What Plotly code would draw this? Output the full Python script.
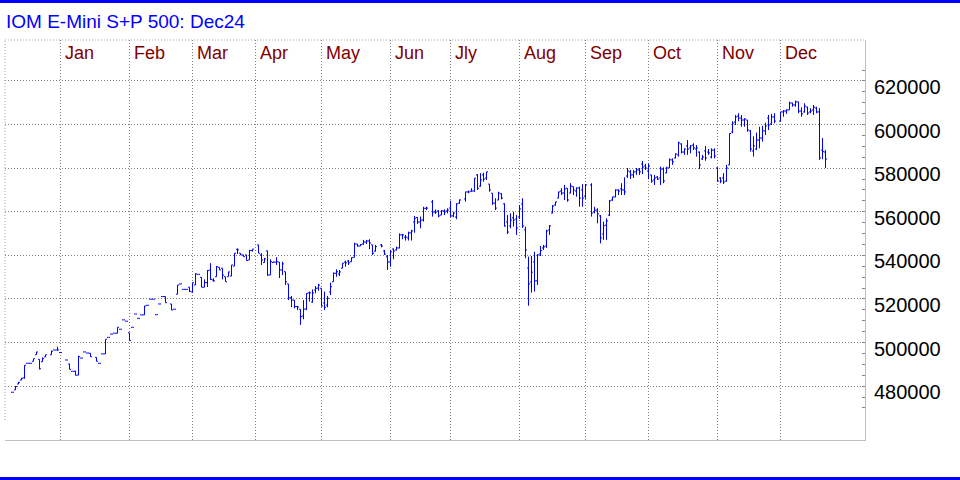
import plotly.graph_objects as go
import pandas as pd

# ---------------- data ----------------
dates = [
    # Dec 2023
    "2023-12-07", "2023-12-08", "2023-12-11", "2023-12-12", "2023-12-13", "2023-12-14", "2023-12-15",
    "2023-12-18", "2023-12-19", "2023-12-20", "2023-12-21", "2023-12-22", "2023-12-26", "2023-12-27",
    "2023-12-28", "2023-12-29",
    # Jan
    "2024-01-02", "2024-01-03", "2024-01-04", "2024-01-05", "2024-01-08", "2024-01-09", "2024-01-10",
    "2024-01-11", "2024-01-12", "2024-01-16", "2024-01-17", "2024-01-18", "2024-01-19", "2024-01-22",
    "2024-01-23", "2024-01-24", "2024-01-25", "2024-01-26", "2024-01-29", "2024-01-30", "2024-01-31",
    # Feb
    "2024-02-01", "2024-02-02", "2024-02-05", "2024-02-06", "2024-02-07", "2024-02-08", "2024-02-09",
    "2024-02-12", "2024-02-13", "2024-02-14", "2024-02-15", "2024-02-16", "2024-02-20", "2024-02-21",
    "2024-02-22", "2024-02-23", "2024-02-26", "2024-02-27", "2024-02-28", "2024-02-29",
    # Mar
    "2024-03-01", "2024-03-04", "2024-03-05", "2024-03-06", "2024-03-07", "2024-03-08", "2024-03-11",
    "2024-03-12", "2024-03-13", "2024-03-14", "2024-03-15", "2024-03-18", "2024-03-19", "2024-03-20",
    "2024-03-21", "2024-03-22", "2024-03-25", "2024-03-26", "2024-03-27", "2024-03-28",
    # Apr
    "2024-04-01", "2024-04-02", "2024-04-03", "2024-04-04", "2024-04-05", "2024-04-08", "2024-04-09",
    "2024-04-10", "2024-04-11", "2024-04-12", "2024-04-15", "2024-04-16", "2024-04-17", "2024-04-18",
    "2024-04-19", "2024-04-22", "2024-04-23", "2024-04-24", "2024-04-25", "2024-04-26", "2024-04-29",
    "2024-04-30",
    # May
    "2024-05-01", "2024-05-02", "2024-05-03", "2024-05-06", "2024-05-07", "2024-05-08", "2024-05-09",
    "2024-05-10", "2024-05-13", "2024-05-14", "2024-05-15", "2024-05-16", "2024-05-17", "2024-05-20",
    "2024-05-21", "2024-05-22", "2024-05-23", "2024-05-24", "2024-05-28", "2024-05-29", "2024-05-30",
    "2024-05-31",
    # Jun
    "2024-06-03", "2024-06-04", "2024-06-05", "2024-06-06", "2024-06-07", "2024-06-10", "2024-06-11",
    "2024-06-12", "2024-06-13", "2024-06-14", "2024-06-17", "2024-06-18", "2024-06-20", "2024-06-21",
    "2024-06-24", "2024-06-25", "2024-06-26", "2024-06-27", "2024-06-28",
    # Jul
    "2024-07-01", "2024-07-02", "2024-07-03", "2024-07-05", "2024-07-08", "2024-07-09", "2024-07-10",
    "2024-07-11", "2024-07-12", "2024-07-15", "2024-07-16", "2024-07-17", "2024-07-18", "2024-07-19",
    "2024-07-22", "2024-07-23", "2024-07-24", "2024-07-25", "2024-07-26", "2024-07-29", "2024-07-30",
    "2024-07-31",
    # Aug
    "2024-08-01", "2024-08-02", "2024-08-05", "2024-08-06", "2024-08-07", "2024-08-08", "2024-08-09",
    "2024-08-12", "2024-08-13", "2024-08-14", "2024-08-15", "2024-08-16", "2024-08-19", "2024-08-20",
    "2024-08-21", "2024-08-22", "2024-08-23", "2024-08-26", "2024-08-27", "2024-08-28", "2024-08-29",
    "2024-08-30",
    # Sep
    "2024-09-03", "2024-09-04", "2024-09-05", "2024-09-06", "2024-09-09", "2024-09-10", "2024-09-11",
    "2024-09-12", "2024-09-13", "2024-09-16", "2024-09-17", "2024-09-18", "2024-09-19", "2024-09-20",
    "2024-09-23", "2024-09-24", "2024-09-25", "2024-09-26", "2024-09-27", "2024-09-30",
    # Oct
    "2024-10-01", "2024-10-02", "2024-10-03", "2024-10-04", "2024-10-07", "2024-10-08", "2024-10-09",
    "2024-10-10", "2024-10-11", "2024-10-14", "2024-10-15", "2024-10-16", "2024-10-17", "2024-10-18",
    "2024-10-21", "2024-10-22", "2024-10-23", "2024-10-24", "2024-10-25", "2024-10-28", "2024-10-29",
    "2024-10-30", "2024-10-31",
    # Nov
    "2024-11-01", "2024-11-04", "2024-11-05", "2024-11-06", "2024-11-07", "2024-11-08", "2024-11-11",
    "2024-11-12", "2024-11-13", "2024-11-14", "2024-11-15", "2024-11-18", "2024-11-19", "2024-11-20",
    "2024-11-21", "2024-11-22", "2024-11-25", "2024-11-26", "2024-11-27", "2024-11-29",
    # Dec
    "2024-12-02", "2024-12-03", "2024-12-04", "2024-12-05", "2024-12-06", "2024-12-09", "2024-12-10",
    "2024-12-11", "2024-12-12", "2024-12-13", "2024-12-16", "2024-12-17", "2024-12-18", "2024-12-19",
    "2024-12-20",
]

opens = [
    477200, 478300, 481000, 482800, 483800, 490500, 490500, 491400, 494400, 492300, 491200, 493400, 494400, 496600, 496600, 495400,
    492000, 490200, 486800, 486800, 485100, 492900, 495700, 495200, 495100, 493200, 490500, 494800, 494800, 502400, 503900, 504300, 504300, 506100, 510400, 509800, 504500,
    507000, 513100, 511100, 512700, 512700, 517100, 519900, 519900, 512800, 517700, 521100, 521100, 517700, 515300, 522200, 526900, 524400, 524400, 525400, 523200,
    526400, 531300, 529900, 525400, 527500, 533300, 528700, 530200, 534500, 534100, 530200, 530200, 530500, 535100, 542800, 541000, 540200, 540200, 537900, 542200,
    544800, 540200, 536700, 542000, 531000, 536700, 536900, 536900, 533300, 532500, 526900, 520500, 519500, 516500, 515300, 512200, 515400, 522800, 518600, 524100, 525000, 524900,
    518200, 517200, 523200, 527900, 531800, 531500, 534100, 536900, 537400, 537100, 539100, 545200, 544300, 545200, 546100, 546600, 544800, 542000, 544800, 542000, 539300, 537000,
    542900, 542500, 543400, 549400, 548400, 548000, 550300, 555300, 557400, 555300, 556200, 561600, 564500, 559900, 560400, 558500, 560400, 560400, 561700,
    558100, 557600, 564000, 565900, 569100, 569500, 569500, 576900, 571800, 576900, 575500, 572700, 568500, 564000, 565400, 568200, 563600, 555300, 553500, 557200, 556700, 557600,
    563600, 551700, 534200, 527800, 537000, 528300, 540600, 543400, 544300, 551700, 559400, 563100, 566300, 569500, 568600, 570800, 568600, 571500, 569500, 570900, 570000, 567200,
    572300, 559900, 560800, 558100, 549800, 553900, 558500, 565400, 566800, 570000, 570500, 570000, 576400, 578300, 576900, 578300, 579200, 581900, 581000, 578700,
    576900, 574600, 575900, 575500, 579600, 577800, 580100, 583800, 584700, 586100, 591100, 587400, 590200, 589300, 590600, 588800, 587400, 584200, 587900, 587400, 585100, 588300, 580100,
    575500, 575500, 574100, 581500, 596600, 601200, 603900, 603000, 602100, 602100, 597100, 587900, 588800, 592900, 593800, 597100, 603000, 600300, 603500, 601600,
    605800, 606200, 606700, 609900, 609000, 610400, 606200, 605800, 608000, 605800, 606700, 607600, 605800, 588300, 587400,
]

highs = [
    477200, 480100, 481900, 483800, 489600, 490500, 490500, 492600, 495700, 492300, 493200, 494400, 496300, 496600, 498100, 495400,
    492000, 490200, 486800, 487100, 493900, 492900, 495700, 495200, 495100, 493200, 490500, 494800, 501500, 502400, 503900, 504300, 507000, 506100, 510400, 509800, 504500,
    507000, 513100, 511100, 512700, 516800, 517100, 519900, 519900, 512800, 517700, 521100, 521100, 517700, 515300, 526400, 526900, 524400, 524400, 525400, 527500,
    531800, 531300, 529900, 529000, 533300, 536400, 529500, 535100, 534500, 534100, 530200, 532500, 535600, 541000, 543200, 541000, 540200, 540200, 542500, 542900,
    544800, 541000, 538800, 542200, 538200, 537100, 539100, 536900, 537100, 532500, 526900, 521400, 519500, 516800, 515300, 519500, 522600, 523400, 524400, 525900, 526900, 524900,
    523400, 521400, 527500, 532100, 533600, 533300, 536400, 537600, 537900, 539100, 545800, 545200, 545200, 547100, 547100, 547400, 544800, 544800, 545200, 542500, 540200, 542500,
    543200, 544000, 550100, 549800, 549400, 550900, 551700, 558100, 557500, 557800, 562300, 562300, 565400, 561100, 560800, 560800, 561100, 561600, 565100,
    560000, 563900, 565700, 569200, 569700, 570800, 575400, 577300, 577700, 577900, 578400, 572700, 568500, 566200, 569200, 568500, 563900, 558500, 559300, 560000, 558500, 563100,
    566200, 553200, 539400, 539700, 541700, 540500, 544300, 544800, 551700, 553900, 563100, 564600, 569200, 570800, 572300, 570800, 573100, 571500, 571200, 571500, 572700, 572700,
    573100, 562300, 561600, 558500, 555500, 557000, 565400, 566900, 570300, 570300, 573100, 575800, 580100, 579200, 579200, 580100, 580100, 583300, 582000, 582200,
    576900, 576900, 576400, 580700, 580400, 580700, 584500, 584500, 586800, 592200, 591400, 589100, 592900, 590600, 591400, 590600, 587600, 586100, 590200, 588800, 589100, 589100, 580400,
    575800, 577700, 581500, 595900, 601500, 604400, 605200, 604400, 602900, 602100, 597500, 594600, 596300, 599000, 599400, 600900, 604400, 604900, 605200, 605900,
    606700, 607000, 610500, 610000, 611000, 610500, 607900, 609800, 608200, 607500, 609000, 608200, 607500, 593800, 588300,
]

lows = [
    477200, 478300, 481000, 482800, 483400, 490500, 490500, 491400, 494400, 487700, 491200, 493400, 494400, 496600, 496300, 495400,
    492000, 487700, 486800, 485000, 485000, 492900, 495700, 495200, 493500, 491400, 490500, 494800, 494800, 502400, 503900, 504300, 504300, 506100, 510400, 509800, 500900,
    507000, 513100, 511100, 512700, 512700, 517100, 519900, 519900, 512800, 517700, 521100, 518300, 514900, 515300, 522200, 526900, 524400, 524400, 523200, 522900,
    526400, 531300, 525400, 525400, 525500, 528700, 527900, 530200, 533300, 529000, 527900, 530200, 530500, 535100, 540600, 540200, 539400, 537600, 537900, 541700,
    541000, 535600, 536700, 530600, 531000, 536700, 535600, 529600, 531000, 526400, 519500, 516200, 515700, 514900, 508100, 510700, 514900, 518800, 518300, 522600, 523800, 516500,
    514900, 516200, 521800, 527900, 530200, 530500, 534100, 534800, 535600, 537100, 539100, 544000, 544300, 544800, 545200, 542800, 540200, 541700, 543700, 540200, 533300, 534800,
    538200, 542200, 543200, 547400, 546800, 546800, 546800, 550400, 554400, 552400, 555500, 560800, 557800, 559000, 557500, 558500, 558500, 559300, 557500,
    557500, 556600, 563600, 564600, 568500, 569200, 569200, 570000, 571500, 573800, 574600, 569200, 563100, 560800, 565400, 565700, 553200, 549800, 552400, 553200, 549400, 556700,
    552600, 538700, 516900, 522900, 523400, 526400, 539700, 542500, 543400, 549400, 559300, 562800, 566200, 567700, 565400, 564600, 568500, 567700, 566900, 562300, 562300, 565900,
    557800, 559300, 554700, 545500, 547100, 547100, 558000, 565000, 566700, 567700, 567700, 567700, 575500, 575100, 575500, 576900, 576900, 577300, 579200, 574900,
    573300, 572300, 574600, 572300, 573100, 577700, 580100, 581500, 584500, 585300, 586800, 586100, 586100, 586800, 588300, 585300, 579600, 583800, 583400, 586100, 584500, 584500, 573800,
    573100, 572700, 573800, 581500, 596000, 599800, 601500, 599000, 599000, 596700, 587600, 585300, 588300, 589100, 592200, 595200, 597500, 599800, 600600, 601500,
    603600, 604900, 606700, 608200, 608200, 605200, 603600, 605500, 604400, 605200, 604400, 605200, 583800, 584100, 580100,
]

closes = [
    477200, 479800, 481800, 483600, 489600, 490500, 490500, 492600, 495700, 488000, 492600, 494400, 496000, 496600, 496600, 495400,
    492000, 487700, 486800, 485000, 493500, 492900, 495700, 495200, 493500, 491400, 490500, 494800, 501500, 502400, 503900, 504300, 507000, 506100, 510400, 509800, 500900,
    507000, 513100, 511100, 512700, 516800, 517100, 519900, 519900, 512800, 517700, 521100, 518300, 514900, 515300, 526400, 526900, 524400, 524400, 523500, 527500,
    531500, 531300, 525400, 527500, 533000, 529000, 528300, 534800, 533300, 531000, 527900, 532400, 535600, 541000, 542500, 540200, 539400, 537600, 542200, 542900,
    541000, 537900, 538400, 531000, 537100, 536900, 537100, 533300, 536100, 527900, 520500, 519500, 516500, 516300, 511900, 515300, 522600, 522800, 522800, 524900, 526400, 516800,
    516200, 520300, 525600, 531800, 532500, 532400, 536400, 536600, 536600, 538900, 545200, 544300, 544900, 546100, 546600, 545700, 541000, 544000, 544300, 540600, 537000, 541600,
    542000, 543400, 549400, 549400, 548400, 550300, 551200, 557000, 555300, 556200, 561600, 561700, 559900, 559900, 558100, 560400, 559900, 560800, 558100,
    559400, 563600, 565400, 569100, 569100, 569500, 575400, 570800, 574600, 575000, 578300, 570000, 564000, 561700, 568600, 566300, 553500, 550700, 556200, 556200, 552600, 561300,
    553500, 542500, 526900, 532300, 528300, 540200, 542200, 543900, 551200, 553500, 562600, 564500, 569100, 568600, 570500, 565400, 571800, 570000, 570900, 566300, 566300, 572300,
    559400, 560800, 559000, 548000, 553600, 555800, 565000, 566800, 570000, 569500, 570000, 569100, 578700, 576900, 578300, 579200, 578300, 580500, 580100, 581000,
    574100, 575500, 575000, 579600, 574100, 580100, 583800, 582900, 586500, 591600, 587400, 588800, 588800, 590200, 589300, 589300, 581500, 585100, 584700, 587000, 588300, 585600, 574100,
    574100, 573700, 580100, 595900, 600700, 603500, 603000, 602100, 602600, 597500, 588800, 590200, 592900, 593800, 597100, 599400, 599800, 603500, 601600, 605800,
    606200, 606700, 609900, 609000, 610400, 606200, 604900, 608500, 605300, 606200, 608000, 605800, 584700, 587600, 584200,
]

months = ["Jan", "Feb", "Mar", "Apr", "May", "Jun", "Jly", "Aug", "Sep", "Oct", "Nov", "Dec"]
price_ticks = list(range(480000, 620001, 20000))
minor_ticks = list(range(470000, 625001, 5000))
title_text = "IOM E-Mini S+P 500: Dec24"

# month dividers: one trading slot before the first weekday of each month
month_lines = pd.date_range("2024-01-01", periods=12, freq="BMS") - pd.offsets.BDay(1)

BLUE = "#0000ff"
GRID = "#808080"
AXIS = "#c0c0c0"
FONT = "Liberation Sans, Arial, sans-serif"

fig = go.Figure(
    go.Ohlc(
        x=dates, open=opens, high=highs, low=lows, close=closes,
        increasing=dict(line=dict(color=BLUE, width=1)),
        decreasing=dict(line=dict(color=BLUE, width=1)),
        tickwidth=0.5,
        hoverinfo="skip",
    )
)

fig.update_layout(
    width=960, height=480,
    margin=dict(l=5, r=95, t=40, b=40, pad=0),
    paper_bgcolor="white", plot_bgcolor="white",
    showlegend=False, hovermode=False,
    font=dict(family=FONT, color="black"),
    title=dict(
        text=title_text, x=6 / 960, xanchor="left", xref="container",
        y=1 - 21 / 480, yanchor="middle", yref="container",
        font=dict(family=FONT, size=19, color=BLUE),
    ),
    xaxis=dict(
        type="date",
        range=["2023-12-04 12:00", "2025-01-08 04:00"],
        rangebreaks=[dict(bounds=["sat", "mon"])],
        rangeslider=dict(visible=False),
        tickmode="array", tickvals=list(month_lines),
        showticklabels=False, ticks="",
        showgrid=True, gridcolor=GRID, gridwidth=1, griddash="1px,2px",
        showline=True, linecolor=AXIS, linewidth=1,
        zeroline=False, fixedrange=True,
    ),
    yaxis=dict(
        side="right",
        range=[455300, 638800],
        tickmode="array", tickvals=price_ticks, tickformat="d",
        showgrid=True, gridcolor=GRID, gridwidth=1, griddash="1px,2px",
        ticks="inside", ticklen=3, tickcolor=GRID,
        minor=dict(tickmode="array", tickvals=minor_ticks, ticks="inside", ticklen=3,
                   tickcolor=GRID, showgrid=False),
        showline=True, linecolor=AXIS, linewidth=1,
        tickfont=dict(family=FONT, size=20, color="black"),
        ticklabelstandoff=4, ticklabelshift=6,
        zeroline=False, fixedrange=True,
    ),
)

# month names inside the top of the plot, just right of each divider
for name, d in zip(months, month_lines):
    fig.add_annotation(
        x=d, xref="x", y=1 - 13 / 400, yref="paper",
        text=name, showarrow=False, xanchor="left", yanchor="middle", xshift=2,
        font=dict(family=FONT, size=18, color="#800000"),
    )

# dotted top and left border of the plot, blue rules at top and bottom of the page
fig.add_shape(type="line", xref="paper", yref="paper", x0=0, x1=1, y0=1, y1=1,
              line=dict(color="#a0a0a0", width=1, dash="1px,2px"))
fig.add_shape(type="line", xref="paper", yref="paper", x0=0, x1=0, y0=0.05, y1=1,
              line=dict(color="#a0a0a0", width=1, dash="1px,2px"))
fig.add_shape(type="rect", xref="paper", yref="paper", x0=-5 / 860, x1=955 / 860,
              y0=1 + 37 / 400, y1=1 + 40 / 400, line=dict(width=0), fillcolor=BLUE)
fig.add_shape(type="rect", xref="paper", yref="paper", x0=-5 / 860, x1=955 / 860,
              y0=-40 / 400, y1=-37 / 400, line=dict(width=0), fillcolor=BLUE)

fig.write_html(
    "out.html",
    config=dict(displayModeBar=False, staticPlot=True),
    post_script="document.body.style.margin='0';",
)
